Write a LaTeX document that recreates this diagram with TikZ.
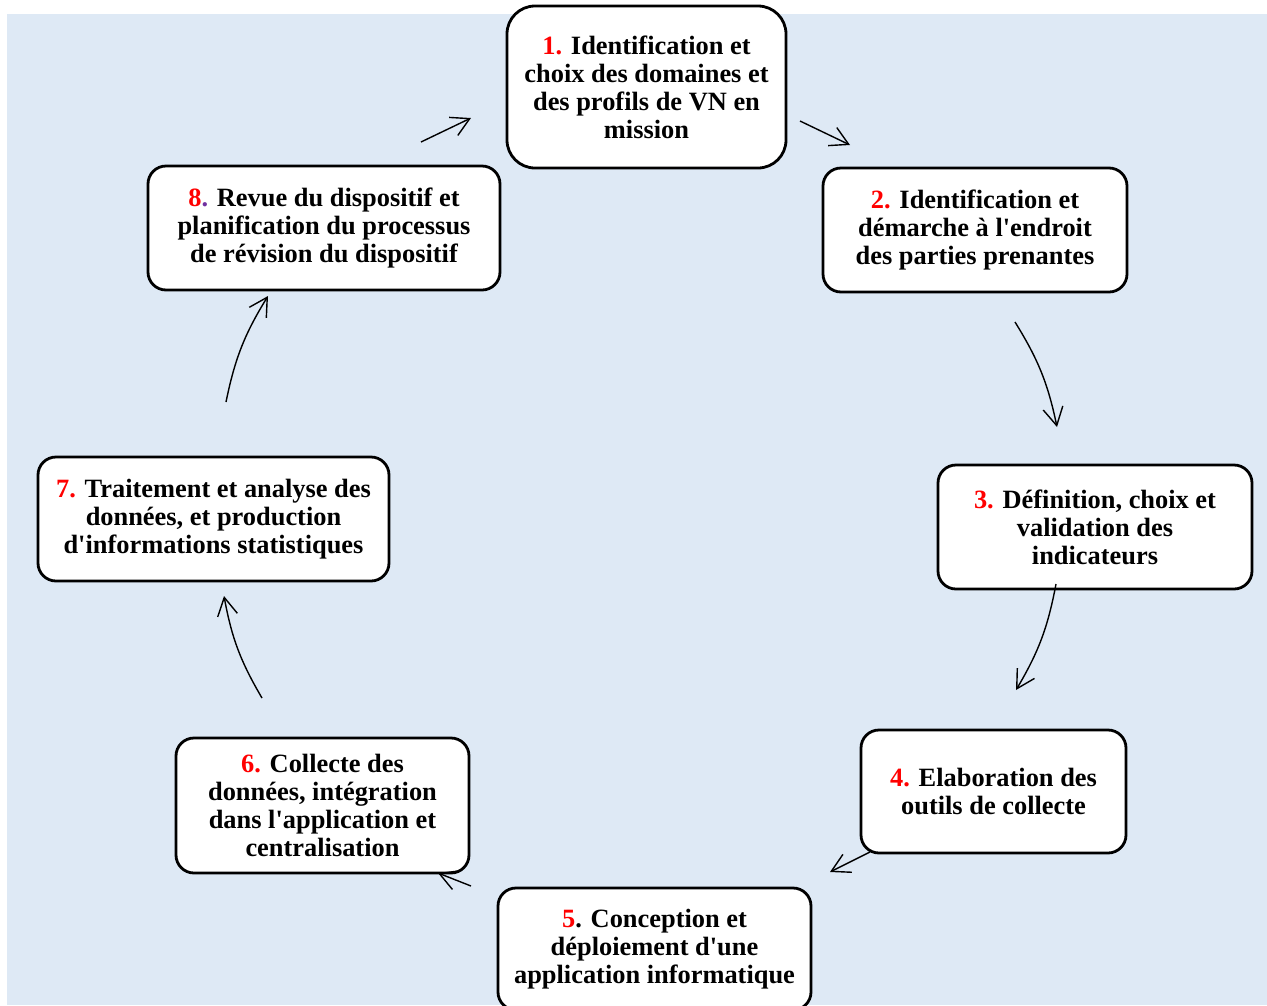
\documentclass[tikz,border=0pt]{standalone}
\usepackage{fontspec}
\setmainfont{Liberation Serif}[Ligatures=TeXOff]
\usetikzlibrary{arrows.meta}

\definecolor{fond}{RGB}{222,233,245}
\definecolor{violet8}{RGB}{112,48,160}
\newcommand{\num}[1]{\textcolor{red}{#1}}

\begin{document}
\begin{tikzpicture}[x=1pt, y=-1pt,
  etape/.style={draw, line width=2.8pt, fill=white, rounded corners=18pt, align=center,
    inner sep=0pt, font=\bfseries\fontsize{26.4}{28}\selectfont},
  fleche/.style={-{Straight Barb[length=18pt,width=20pt]}, line width=1.4pt}]
  \useasboundingbox (0,0) rectangle (1267,1005);
  \fill[fond] (7,14) rectangle (1267,1005);

  % les huit etapes du cycle
  \node[etape, rounded corners=28pt, minimum width=279pt, minimum height=162pt] (e1) at (646.5,87)
    {\num{1.} Identification et\\choix des domaines et\\des profils de VN en\\mission};
  \node[etape, minimum width=304pt, minimum height=124pt] (e2) at (975,230)
    {\num{2.} Identification et\\démarche à l'endroit\\des parties prenantes};
  \node[etape, minimum width=314pt, minimum height=124pt] (e3) at (1095,527)
    {\num{3.} Définition, choix et\\validation des\\indicateurs};
  \node[etape, minimum width=265pt, minimum height=123pt] (e4) at (993.5,791.5)
    {\num{4.} Elaboration des\\outils de collecte};
  \node[etape, minimum width=313pt, minimum height=122pt] (e5) at (654.5,949)
    {\num{5}. Conception et\\déploiement d'une\\application informatique};
  \node[etape, minimum width=293pt, minimum height=135pt] (e6) at (322.5,805.5)
    {\num{6.} Collecte des\\données, intégration\\dans l'application et\\centralisation};
  \node[etape, minimum width=351pt, minimum height=124pt] (e7) at (213.5,519)
    {\num{7.} Traitement et analyse des\\données, et production\\d'informations statistiques};
  \node[etape, minimum width=352pt, minimum height=124pt] (e8) at (324,228)
    {\num{8}\textcolor{violet8}{.} Revue du dispositif et\\planification du processus\\de révision du dispositif};

  % extremites des fleches
  \coordinate (d1) at (800,121);  \coordinate (f1) at (850,145);
  \coordinate (d2) at (1015,322); \coordinate (f2) at (1057,427);
  \coordinate (d3) at (1056,584); \coordinate (f3) at (1016,690);
  \coordinate (d4) at (870,852);  \coordinate (f4) at (830,872);
  \coordinate (d5) at (471,886);  \coordinate (f5) at (438,873);
  \coordinate (d6) at (262,698);  \coordinate (f6) at (224,596);
  \coordinate (d7) at (226,402);  \coordinate (f7) at (268,296);
  \coordinate (d8) at (421,142);  \coordinate (f8) at (471,118);

  \foreach \i in {1,4,5,8}
    \draw[fleche] (d\i) -- (f\i);
  \foreach \i in {2,3,6,7}
    \draw[fleche] (d\i) to[bend left=10] (f\i);
\end{tikzpicture}
\end{document}
